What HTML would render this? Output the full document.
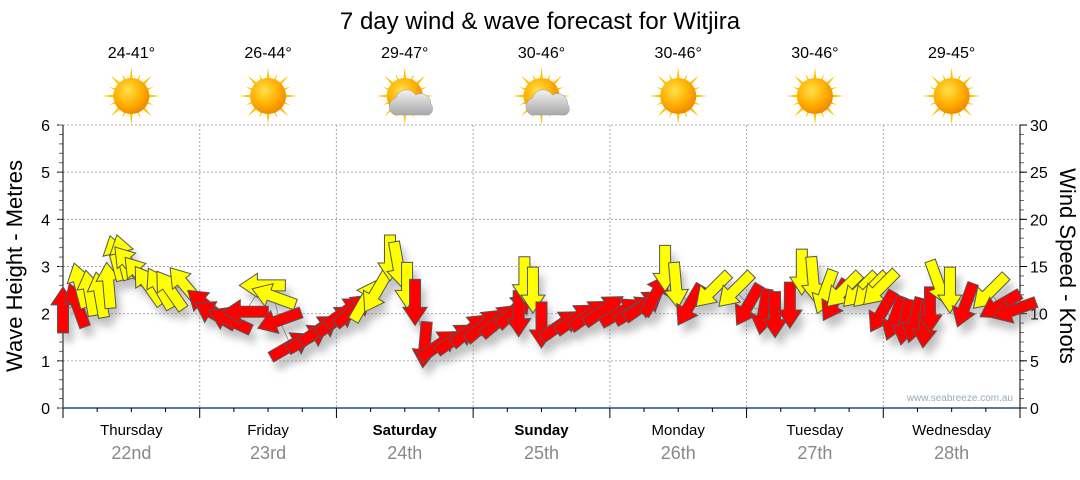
<!DOCTYPE html>
<html><head><meta charset="utf-8"><style>
body{margin:0;background:#fff;font-family:"Liberation Sans",Arial,sans-serif}
svg text{font-family:"Liberation Sans",Arial,sans-serif}
</style></head><body>
<svg id="c" width="1080" height="475" viewBox="0 0 1080 475">
<defs>
<filter id="sh" x="-50%" y="-50%" width="200%" height="200%"><feGaussianBlur stdDeviation="4"/></filter>
<radialGradient id="sunG" cx="40%" cy="35%" r="65%"><stop offset="0" stop-color="#ffe14a"/><stop offset="0.6" stop-color="#ffb000"/><stop offset="1" stop-color="#f08a00"/></radialGradient>
<linearGradient id="cloudG" x1="0" y1="0" x2="0" y2="1"><stop offset="0" stop-color="#f2f2f2"/><stop offset="1" stop-color="#a8a8a8"/></linearGradient>
</defs>
<text x="540" y="29" text-anchor="middle" font-size="24" fill="#000">7 day wind &amp; wave forecast for Witjira</text>
<g id="grid"></g><g id="axes"></g><g id="icons"></g><g id="marks"></g>
<text x="1013" y="401" text-anchor="end" font-size="10" fill="#9ab">www.seabreeze.com.au</text>
<text transform="translate(22,266) rotate(-90)" text-anchor="middle" font-size="22" fill="#000">Wave Height - Metres</text>
<text transform="translate(1060,266) rotate(90)" text-anchor="middle" font-size="22" fill="#000">Wind Speed - Knots</text>
</svg>
<script>
const days = ["Thursday","Friday","Saturday","Sunday","Monday","Tuesday","Wednesday"];
const dates = ["22nd","23rd","24th","25th","26th","27th","28th"];
const boldDays = [false,false,true,true,false,false,false];
const temps = ["24-41°","26-44°","29-47°","30-46°","30-46°","30-46°","29-45°"];
const cloudy = [false,false,true,true,false,false,false];
const leftTicks = [0,1,2,3,4,5,6];
const rightTicks = [0,5,10,15,20,25,30];
const hours = [0,2.5,3,4.7,6.5,8,9.3,10.5,11.7,13.5,15,17,18.8,21.4,25,26.7,29.3,32,35,37,38,40,43,45,48,49.5,51,53,55,57.4,58.8,60.4,61.8,63.5,66,69,71.5,74,76.7,79.3,80,81,82.5,84,87.3,90,92.5,95,98,100.5,102,104,105.7,107.6,110,114,118,120.3,123,125,127.6,129.7,131.7,133.8,135.5,137,139.9,141.7,143.4,143.8,146,147.8,149.5,151.3,152.2,153.6,155.7,158.4,162.7,164.5,167];
const speeds = [10.4,10.9,13,12.2,12,13,15.9,16,15.2,14.1,13,12.7,12.5,13,10.9,9.9,9.3,10.2,13,11.8,9.3,6.6,7.4,8.3,9.3,10.2,10.4,11.4,12.3,15.9,15.2,13,11.2,6.7,6.7,7.4,8.3,8.8,9.3,10.4,10,13.6,12.5,8.8,8.8,9.5,9.9,10.4,10.2,10.4,10.9,12,14.8,13,10.9,12.5,12.5,10.9,10.2,9.9,10.9,14.4,13.6,12.3,11.4,12.5,12.5,12.5,12.7,10.2,9.5,9.1,9.3,8.8,10.4,13.3,12.5,10.9,12.3,10.9,10.4];
const dirs = [0,-20,-15,-10,-10,-5,-15,-15,-40,-40,-35,-30,-35,-40,-50,-60,-65,-90,-90,-70,-110,60,60,55,55,55,50,30,-150,180,170,180,180,185,55,55,50,50,50,45,180,180,180,180,55,55,55,55,60,60,55,30,180,175,210,225,225,210,190,180,180,180,175,200,210,225,225,225,225,210,200,190,195,185,180,160,180,200,225,240,250];
const colors = ["r","r","y","y","y","y","y","y","y","y","y","y","y","y","r","r","r","r","y","y","r","r","r","r","r","r","r","y","y","y","y","y","r","r","r","r","r","r","r","r","r","y","y","r","r","r","r","r","r","r","r","r","y","y","r","y","y","r","r","r","r","y","y","y","r","y","y","y","y","r","r","r","r","r","r","y","y","r","y","r","r"];

const NS="http://www.w3.org/2000/svg";
const X0=63,X1=1020,Y0=408,Y1=125;
const xh=h=>X0+h*(X1-X0)/168;
const ym=m=>Y0-m*(Y0-Y1)/6;
const yk=k=>Y0-k*(Y0-Y1)/30;
function mk(tag,attrs,parent){const e=document.createElementNS(NS,tag);for(const k in attrs)e.setAttribute(k,attrs[k]);parent.appendChild(e);return e;}
const grid=document.getElementById('grid'),axes=document.getElementById('axes'),icons=document.getElementById('icons'),marks=document.getElementById('marks');

leftTicks.forEach(v=>{
  if(v>0){const g=mk('line',{x1:X0,x2:X1,y1:ym(v),y2:ym(v),stroke:'#aaa','stroke-dasharray':'2,2'},grid);
  
  }
  const t=mk('text',{x:50,y:ym(v)+6,'text-anchor':'end','font-size':16,fill:'#000'},axes);t.textContent=v;
  
  
  mk('line',{x1:X0-6,x2:X0,y1:ym(v),y2:ym(v),stroke:'#000'},axes);
});
for(let i=0;i<=30;i++){const y=Y0-i*(Y0-Y1)/30;mk('line',{x1:X0-4,x2:X0,y1:y,y2:y,stroke:'#666'},axes);mk('line',{x1:X1,x2:X1+4,y1:y,y2:y,stroke:'#666'},axes);}
rightTicks.forEach(v=>{
  const t=mk('text',{x:1030,y:yk(v)+6,'text-anchor':'start','font-size':16,fill:'#000'},axes);t.textContent=v;
  
  
  mk('line',{x1:X1,x2:X1+7,y1:yk(v),y2:yk(v),stroke:'#000'},axes);
});
for(let d=1;d<7;d++){const g=mk('line',{x1:xh(d*24),x2:xh(d*24),y1:Y1,y2:Y0,stroke:'#aaa','stroke-dasharray':'2,2'},grid);
  
  }
mk('line',{x1:X0,x2:X0,y1:Y1,y2:Y0,stroke:'#000'},axes);
mk('line',{x1:X1,x2:X1,y1:Y1,y2:Y0,stroke:'#000'},axes);
mk('line',{x1:X0,x2:X1,y1:Y0,y2:Y0,stroke:'#1f4e79','stroke-width':1.5},axes);
for(let h=0;h<=168;h+=6){const big=h%24===0;mk('line',{x1:xh(h),x2:xh(h),y1:Y0,y2:Y0+(big?10:4),stroke:'#000'},axes);}
days.forEach((d,i)=>{
  const cx=xh(i*24+12);
  const t=mk('text',{x:cx,y:435,'text-anchor':'middle','font-size':15,fill:'#000','font-weight':boldDays[i]?'bold':'normal'},axes);t.textContent=d;
  
  
  const t2=mk('text',{x:cx,y:459,'text-anchor':'middle','font-size':18,fill:'#888'},axes);t2.textContent=dates[i];
  
  
  const t3=mk('text',{x:cx,y:58,'text-anchor':'middle','font-size':16,fill:'#000'},icons);t3.textContent=temps[i];
  
  
  const g=mk('g',{transform:`translate(${cx},96)`},icons);
  
  
  for(let r=0;r<16;r++){const a=r*22.5,L=r%2?24:29;mk('polygon',{points:`-3.5,0 0,-${L} 3.5,0`,fill:'#ffc400',transform:`rotate(${a})`},g);}
  mk('circle',{r:18,fill:'url(#sunG)'},g);
  if(cloudy[i]){mk('path',{d:'M-10,19 a9,9 0 0 1 1,-17 a11,11 0 0 1 20,-3 a10,10 0 0 1 15,9 a7,7 0 0 1 -2,11 z',fill:'url(#cloudG)',stroke:'#999','stroke-width':0.5},g);}
});

const pts=hours.map((h,i)=>xh(h)+','+yk(speeds[i])).join(' ');
const pl=mk('polyline',{points:pts,fill:'none',stroke:'#999','stroke-width':1},marks);


const shape='M0,-23 L12,-5 L5.5,-5 L5.5,23 L-5.5,23 L-5.5,-5 L-12,-5 Z';
const shG=mk('g',{filter:'url(#sh)',opacity:0.45},marks);
hours.forEach((h,i)=>{mk('path',{d:shape,fill:'#777',transform:`translate(${xh(h)+5},${yk(speeds[i])+9}) rotate(${dirs[i]})`},shG);});
hours.forEach((h,i)=>{
  const a=mk('path',{d:shape,fill:colors[i]==='r'?'#ff0000':'#ffff00',stroke:'#555','stroke-width':1,transform:`translate(${xh(h)},${yk(speeds[i])}) rotate(${dirs[i]})`},marks);
  
  
});
</script>
</body></html>
